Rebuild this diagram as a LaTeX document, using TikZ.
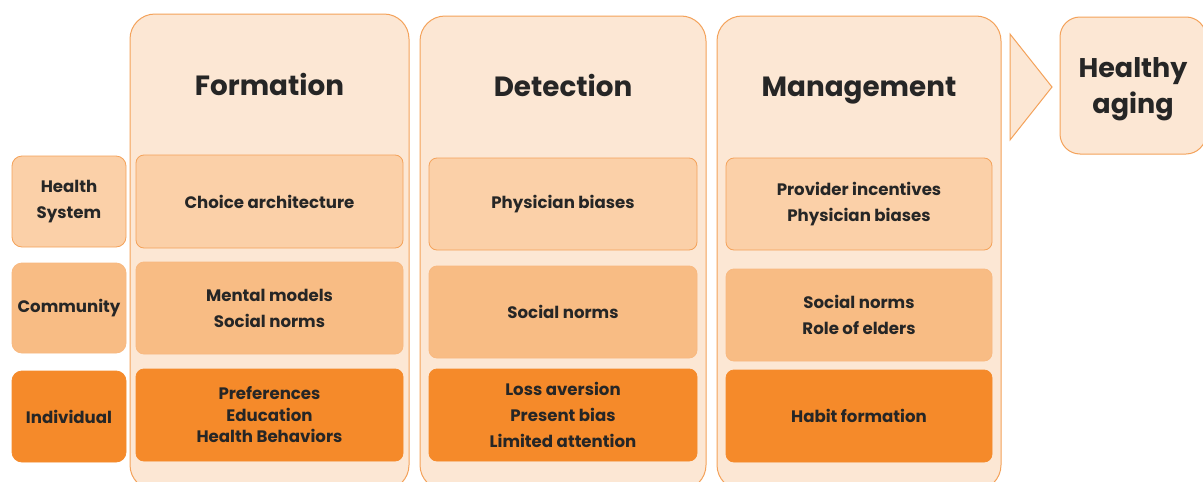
\documentclass[tikz,border=0pt]{standalone}
\usepackage{fontspec}
\setmainfont{Poppins}
\definecolor{colfill}{HTML}{FCE7D4}
\definecolor{edge}{HTML}{F4A25A}
\definecolor{rowA}{HTML}{FBD0A8}
\definecolor{rowB}{HTML}{F8BC84}
\definecolor{rowC}{HTML}{F58A2A}
\definecolor{ink}{HTML}{262626}
\begin{document}
\begin{tikzpicture}[x=1pt,y=-1pt,
  column/.style={draw=edge,line width=1pt,fill=colfill,rounded corners=25pt,inner sep=0pt},
  cell/.style={rounded corners=8pt,inner sep=0pt,align=center,text=ink,
    font=\bfseries\fontsize{16.6}{26}\selectfont,line width=0.8pt},
  cellA/.style={cell,fill=rowA,draw=edge},
  cellB/.style={cell,fill=rowB,draw=rowB!90!edge},
  cellC/.style={cell,fill=rowC,draw=rowC!95!edge},
  title/.style={text=ink,font=\bfseries\fontsize{27.8}{30}\selectfont,inner sep=0pt,anchor=base},
  lab/.style={minimum width=114pt,rounded corners=10pt},
]
\useasboundingbox (0,0) rectangle (1203,482);
\clip (0,0) rectangle (1203,482);
\fill[white] (0,0) rectangle (1203,482);
% columns
\node[column,minimum width=279pt,minimum height=476pt] (colF) at (269.5,252) {};
\node[column,minimum width=286pt,minimum height=474pt] (colD) at (563,253) {};
\node[column,minimum width=284pt,minimum height=474pt] (colM) at (859,253) {};
\node[title] (tF) at (269.5,95) {Formation};
\node[title] (tD) at (563,96) {Detection};
\node[title] (tM) at (859,96) {Management};
% arrow and outcome
\draw[draw=edge,line width=1pt,fill=colfill] (1010,34) -- (1052,87) -- (1010,140) -- cycle;
\node[draw=edge,line width=1pt,fill=colfill,rounded corners=20pt,minimum width=146pt,minimum height=137pt,inner sep=0pt] (hbox) at (1133,85.5) {};
\node[text=ink,font=\bfseries\fontsize{27}{36}\selectfont,align=center,inner sep=0pt] (ha) at (1133,89) {Healthy\\aging};
% left labels
\node[cellA,lab,minimum height=91pt] (l1) at (69,201.5) {Health\\System};
\node[cellB,lab,minimum height=90pt] (l2) at (69,308) {Community};
\node[cellC,lab,minimum height=91pt] (l3) at (69,416.5) {Individual};
% Formation
\node[cellA,minimum width=267pt,minimum height=93pt] (f1) at (269.5,201.5) {Choice architecture};
\node[cellB,minimum width=267pt,minimum height=92pt] (f2) at (269.5,308) {Mental models\\Social norms};
\node[cellC,minimum width=267pt,minimum height=92pt,font=\bfseries\fontsize{16.6}{21.5}\selectfont] (f3) at (269.5,415) {Preferences\\Education\\Health Behaviors};
% Detection
\node[cellA,minimum width=268pt,minimum height=92pt] (d1) at (563,204) {Physician biases};
\node[cellB,minimum width=268pt,minimum height=92pt] (d2) at (563,312) {Social norms};
\node[cellC,minimum width=268pt,minimum height=92pt] (d3) at (563,415) {Loss aversion\\Present bias\\Limited attention};
% Management
\node[cellA,minimum width=266pt,minimum height=92pt] (m1) at (859,204) {Provider incentives\\Physician biases};
\node[cellB,minimum width=266pt,minimum height=92pt] (m2) at (859,315) {Social norms\\Role of elders};
\node[cellC,minimum width=266pt,minimum height=92pt] (m3) at (859,416) {Habit formation};
\end{tikzpicture}
\end{document}
